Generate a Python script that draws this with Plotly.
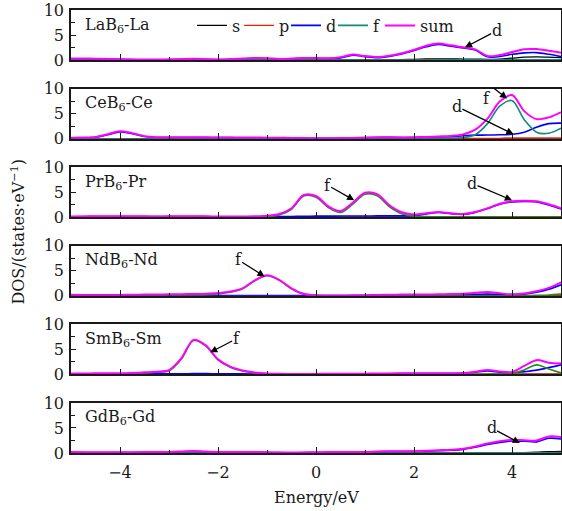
import plotly.graph_objects as go
from plotly.subplots import make_subplots

energy = [-5.0, -4.75, -4.5, -4.25, -4.0, -3.75, -3.5, -3.25,
          -3.0, -2.75, -2.5, -2.25, -2.0, -1.75, -1.5, -1.25,
          -1.0, -0.75, -0.5, -0.25, 0.0, 0.25, 0.5, 0.75,
          1.0, 1.25, 1.5, 1.75, 2.0, 2.25, 2.5, 2.75,
          3.0, 3.25, 3.5, 3.75, 4.0, 4.25, 4.5, 4.75, 5.0]

panel_labels = ["LaB<sub>6</sub>-La", "CeB<sub>6</sub>-Ce", "PrB<sub>6</sub>-Pr",
                "NdB<sub>6</sub>-Nd", "SmB<sub>6</sub>-Sm", "GdB<sub>6</sub>-Gd"]
orbital_names = ["s", "p", "d", "f", "sum"]
x_tick_values = [-4, -2, 0, 2, 4]
y_tick_values = [0, 5, 10]

# ---- LaB6-La
la_s = [0.03,0.03,0.03,0.03,0.03,0.03,0.03,0.03, 0.03,0.03,0.03,0.03,0.03,0.03,0.03,0.03,
        0.03,0.03,0.03,0.03,0.04,0.04,0.05,0.05, 0.06,0.06,0.07,0.10,0.15,0.22,0.25,0.24,
        0.20,0.18,0.15,0.20,0.38,0.58,0.65,0.60, 0.50]
la_p = [0.0,0.0,0.0,0.0,0.0,0.0,0.0,0.0, 0.0,0.0,0.0,0.0,0.0,0.0,0.0,0.0,
        0.0,0.0,0.0,0.0,0.0,0.0,0.0,0.0, 0.0,0.0,0.0,0.0,0.02,0.04,0.05,0.05,
        0.05,0.05,0.05,0.06,0.07,0.08,0.08,0.08, 0.08]
la_d = [0.25,0.25,0.23,0.18,0.14,0.09,0.07,0.07, 0.09,0.14,0.20,0.14,0.09,0.14,0.25,0.36,
        0.32,0.17,0.25,0.36,0.34,0.29,0.45,0.98, 0.70,0.50,0.75,1.22,1.90,2.65,3.10,2.78,
        2.40,2.00,0.65,0.75,1.15,1.45,1.50,1.15, 0.70]
la_f = [0.0,0.0,0.0,0.0,0.0,0.0,0.0,0.0, 0.0,0.0,0.0,0.0,0.0,0.0,0.0,0.0,
        0.0,0.0,0.0,0.0,0.0,0.0,0.0,0.0, 0.0,0.0,0.02,0.02,0.03,0.03,0.04,0.04,
        0.04,0.04,0.04,0.04,0.05,0.05,0.05,0.05, 0.05]
la_sum = [0.30,0.30,0.28,0.22,0.18,0.12,0.10,0.10, 0.12,0.18,0.25,0.18,0.12,0.18,0.30,0.42,
          0.38,0.22,0.30,0.42,0.40,0.35,0.55,1.10, 0.80,0.60,0.85,1.35,2.05,2.85,3.30,2.95,
          2.55,2.15,0.80,1.00,1.60,2.15,2.20,1.85, 1.45]

# ---- CeB6-Ce
ce_s = [0.0,0.0,0.0,0.0,0.0,0.0,0.0,0.0, 0.0,0.0,0.0,0.0,0.0,0.0,0.0,0.0,
        0.0,0.0,0.0,0.0,0.0,0.0,0.0,0.0, 0.0,0.0,0.0,0.0,0.0,0.0,0.0,0.0,
        0.02,0.02,0.03,0.03,0.04,0.05,0.05,0.05, 0.05]
ce_p = [0.0,0.0,0.0,0.0,0.0,0.0,0.0,0.0, 0.0,0.0,0.0,0.0,0.0,0.0,0.0,0.0,
        0.0,0.0,0.0,0.0,0.0,0.0,0.0,0.0, 0.0,0.0,0.0,0.0,0.0,0.0,0.0,0.03,
        0.05,0.06,0.07,0.08,0.09,0.10,0.10,0.11, 0.12]
ce_d = [0.15,0.17,0.30,0.80,1.35,1.00,0.42,0.24, 0.22,0.22,0.22,0.21,0.20,0.20,0.19,0.18,
        0.16,0.14,0.12,0.09,0.08,0.08,0.09,0.12, 0.18,0.24,0.26,0.21,0.24,0.28,0.35,0.40,
        0.58,0.70,0.72,0.78,0.88,1.30,2.30,3.00, 3.10]
ce_f = [0.0,0.0,0.0,0.0,0.0,0.0,0.0,0.0, 0.0,0.0,0.0,0.0,0.0,0.0,0.0,0.0,
        0.0,0.0,0.0,0.0,0.0,0.0,0.0,0.0, 0.0,0.0,0.0,0.02,0.03,0.05,0.08,0.12,
        0.22,0.80,3.00,6.50,7.60,3.80,1.30,1.10, 2.10]
ce_sum = [0.20,0.22,0.35,0.90,1.50,1.10,0.50,0.30, 0.28,0.28,0.28,0.26,0.25,0.25,0.24,0.22,
          0.20,0.18,0.15,0.12,0.10,0.10,0.12,0.15, 0.22,0.28,0.30,0.25,0.28,0.35,0.45,0.55,
          0.85,1.80,4.00,7.40,8.70,5.50,3.90,4.25, 5.30]

# ---- PrB6-Pr
pr_s = [0.0,0.0,0.0,0.0,0.0,0.0,0.0,0.0, 0.0,0.0,0.0,0.0,0.0,0.0,0.0,0.0,
        0.0,0.0,0.0,0.0,0.0,0.0,0.0,0.0, 0.0,0.0,0.0,0.0,0.0,0.0,0.0,0.0,
        0.02,0.02,0.02,0.03,0.03,0.03,0.03,0.03, 0.03]
pr_p = [0.0,0.0,0.0,0.0,0.0,0.0,0.0,0.0, 0.0,0.0,0.0,0.0,0.0,0.0,0.0,0.0,
        0.0,0.0,0.0,0.0,0.0,0.0,0.0,0.0, 0.0,0.0,0.0,0.0,0.0,0.02,0.03,0.03,
        0.04,0.04,0.05,0.05,0.05,0.05,0.05,0.05, 0.05]
pr_d = [0.10,0.12,0.14,0.16,0.16,0.15,0.13,0.12, 0.12,0.14,0.14,0.12,0.10,0.09,0.09,0.10,
        0.12,0.14,0.16,0.18,0.22,0.22,0.25,0.26, 0.26,0.27,0.27,0.28,0.30,0.65,0.95,0.72,
        0.58,0.98,1.72,2.60,3.05,3.15,3.05,2.45, 1.65]
pr_f = [0.0,0.0,0.0,0.0,0.0,0.0,0.0,0.0, 0.0,0.0,0.0,0.0,0.0,0.0,0.0,0.02,
        0.10,0.45,1.60,4.25,4.00,1.95,0.95,2.60, 4.60,4.30,2.10,0.70,0.25,0.12,0.08,0.06,
        0.05,0.05,0.05,0.05,0.05,0.05,0.05,0.05, 0.05]
pr_sum = [0.15,0.17,0.20,0.22,0.22,0.20,0.18,0.17, 0.18,0.20,0.20,0.18,0.15,0.14,0.14,0.18,
          0.30,0.65,1.80,4.45,4.25,2.20,1.25,2.90, 4.90,4.60,2.40,1.00,0.55,0.80,1.05,0.80,
          0.65,1.05,1.80,2.70,3.20,3.30,3.20,2.60, 1.80]

# ---- NdB6-Nd
nd_s = [0.0,0.0,0.0,0.0,0.0,0.0,0.0,0.0, 0.0,0.0,0.0,0.0,0.0,0.0,0.0,0.0,
        0.0,0.0,0.0,0.0,0.0,0.0,0.0,0.0, 0.0,0.0,0.0,0.0,0.0,0.0,0.0,0.0,
        0.02,0.02,0.03,0.03,0.03,0.03,0.04,0.04, 0.05]
nd_p = [0.0,0.0,0.0,0.0,0.0,0.0,0.0,0.0, 0.0,0.0,0.0,0.0,0.0,0.0,0.0,0.0,
        0.0,0.0,0.0,0.0,0.0,0.0,0.0,0.0, 0.0,0.0,0.0,0.0,0.0,0.02,0.02,0.03,
        0.04,0.15,0.28,0.15,0.05,0.05,0.05,0.05, 0.05]
nd_d = [0.05,0.05,0.05,0.05,0.05,0.05,0.05,0.05, 0.05,0.05,0.05,0.05,0.05,0.05,0.05,0.05,
        0.05,0.05,0.05,0.05,0.05,0.05,0.05,0.05, 0.05,0.06,0.08,0.10,0.12,0.12,0.14,0.16,
        0.20,0.30,0.38,0.28,0.20,0.35,0.70,1.30, 2.20]
nd_f = [0.0,0.0,0.0,0.0,0.0,0.0,0.0,0.02, 0.04,0.06,0.10,0.20,0.40,0.70,1.40,3.00,
        4.00,3.10,1.40,0.30,0.04,0.02,0.0,0.0, 0.0,0.0,0.0,0.0,0.0,0.0,0.0,0.0,
        0.0,0.0,0.02,0.02,0.03,0.05,0.10,0.18, 0.35]
nd_sum = [0.20,0.18,0.15,0.15,0.18,0.22,0.25,0.28, 0.30,0.33,0.36,0.42,0.55,0.85,1.50,3.10,
          4.10,3.20,1.50,0.40,0.10,0.08,0.08,0.10, 0.12,0.18,0.22,0.25,0.28,0.28,0.30,0.35,
          0.40,0.60,0.75,0.50,0.30,0.45,0.90,1.60, 2.70]

# ---- SmB6-Sm
sm_s = [0.0,0.0,0.0,0.0,0.0,0.0,0.0,0.0, 0.0,0.0,0.0,0.0,0.0,0.0,0.0,0.0,
        0.0,0.0,0.0,0.0,0.0,0.0,0.0,0.0, 0.0,0.0,0.0,0.0,0.0,0.0,0.0,0.0,
        0.02,0.02,0.02,0.02,0.03,0.03,0.04,0.04, 0.05]
sm_p = [0.0,0.0,0.0,0.0,0.0,0.0,0.0,0.0, 0.0,0.0,0.0,0.0,0.0,0.0,0.0,0.0,
        0.0,0.0,0.0,0.0,0.0,0.0,0.0,0.0, 0.0,0.0,0.0,0.0,0.0,0.0,0.02,0.02,
        0.03,0.04,0.05,0.04,0.04,0.05,0.06,0.06, 0.06]
sm_d = [0.08,0.08,0.09,0.10,0.10,0.10,0.11,0.12, 0.12,0.14,0.15,0.15,0.14,0.12,0.10,0.08,
        0.06,0.05,0.05,0.06,0.06,0.08,0.10,0.10, 0.10,0.11,0.13,0.15,0.17,0.18,0.18,0.18,
        0.20,0.45,0.70,0.45,0.30,0.55,0.85,1.35, 1.90]
sm_f = [0.05,0.05,0.06,0.07,0.10,0.15,0.28,0.42, 0.72,3.05,6.75,5.70,2.90,1.45,0.70,0.30,
        0.12,0.06,0.04,0.03,0.03,0.03,0.03,0.03, 0.03,0.03,0.03,0.03,0.03,0.03,0.03,0.03,
        0.03,0.03,0.05,0.08,0.15,0.90,1.90,1.10, 0.30]
sm_sum = [0.20,0.20,0.21,0.22,0.25,0.30,0.42,0.55, 0.85,3.20,6.90,5.80,3.00,1.55,0.80,0.38,
          0.18,0.12,0.10,0.10,0.10,0.12,0.14,0.15, 0.15,0.17,0.20,0.22,0.25,0.25,0.25,0.25,
          0.28,0.55,0.90,0.60,0.50,1.70,2.85,2.35, 2.20]

# ---- GdB6-Gd
gd_s = [0.0,0.0,0.0,0.0,0.0,0.0,0.0,0.0, 0.0,0.0,0.0,0.0,0.0,0.0,0.0,0.0,
        0.0,0.0,0.0,0.0,0.0,0.0,0.0,0.0, 0.0,0.0,0.0,0.0,0.0,0.0,0.02,0.03,
        0.03,0.03,0.04,0.05,0.06,0.08,0.15,0.25, 0.30]
gd_p = [0.0,0.0,0.0,0.0,0.0,0.0,0.0,0.0, 0.0,0.0,0.0,0.0,0.0,0.0,0.0,0.0,
        0.0,0.0,0.0,0.0,0.0,0.0,0.0,0.0, 0.0,0.0,0.0,0.0,0.0,0.0,0.03,0.03,
        0.03,0.04,0.04,0.05,0.06,0.07,0.08,0.09, 0.10]
gd_d = [0.12,0.11,0.10,0.10,0.10,0.11,0.12,0.14, 0.16,0.22,0.30,0.20,0.14,0.14,0.15,0.14,
        0.10,0.07,0.06,0.07,0.10,0.12,0.14,0.14, 0.16,0.22,0.27,0.28,0.30,0.36,0.45,0.55,
        0.72,1.15,1.70,2.12,2.40,2.35,2.22,2.95, 2.80]
gd_f = [0.0,0.0,0.0,0.0,0.0,0.0,0.0,0.0, 0.0,0.0,0.0,0.0,0.0,0.0,0.0,0.0,
        0.0,0.0,0.0,0.0,0.0,0.0,0.0,0.0, 0.0,0.0,0.0,0.0,0.0,0.0,0.0,0.0,
        0.02,0.02,0.03,0.03,0.03,0.04,0.04,0.05, 0.05]
gd_sum = [0.18,0.17,0.16,0.15,0.15,0.16,0.18,0.20, 0.22,0.30,0.40,0.28,0.20,0.20,0.22,0.20,
          0.15,0.10,0.08,0.10,0.15,0.18,0.20,0.20, 0.22,0.30,0.35,0.35,0.38,0.45,0.55,0.65,
          0.85,1.30,1.90,2.35,2.60,2.55,2.50,3.30, 3.20]

panel_series = [
    [la_s, la_p, la_d, la_f, la_sum],
    [ce_s, ce_p, ce_d, ce_f, ce_sum],
    [pr_s, pr_p, pr_d, pr_f, pr_sum],
    [nd_s, nd_p, nd_d, nd_f, nd_sum],
    [sm_s, sm_p, sm_d, sm_f, sm_sum],
    [gd_s, gd_p, gd_d, gd_f, gd_sum],
]

FONT = "DejaVu Serif"
INK = "#1a1a1a"
TEAL = "#0f8a85"
GREEN = "#1f8f1f"
base_colors = ["#000000", "#ff1a00", "#0000ff", TEAL, "#ff00ff"]
f_colors = [TEAL, TEAL, GREEN, GREEN, GREEN, TEAL]
widths = [1.3, 1.3, 1.6, 1.6, 2.0]

fig = make_subplots(rows=6, cols=1, shared_xaxes=True, vertical_spacing=0.0643)

for r, series in enumerate(panel_series, start=1):
    for k, (name, vals) in enumerate(zip(orbital_names, series)):
        color = f_colors[r - 1] if name == "f" else base_colors[k]
        fig.add_trace(go.Scatter(
            x=energy, y=vals, mode="lines", name=name,
            line=dict(color=color, width=widths[k], shape="spline", smoothing=0.9),
            showlegend=(r == 1), legendgroup=name, hoverinfo="skip",
            legendwidth=(38 if name == "sum" else None)),
            row=r, col=1)

axis_common = dict(showline=True, mirror=True, linecolor=INK, linewidth=1.5,
                   ticks="inside", tickcolor=INK, tickwidth=1.3,
                   showgrid=False, zeroline=False, ticklabeloverflow="allow",
                   tickfont=dict(family=FONT, size=16, color=INK))
for r in range(1, 7):
    fig.update_xaxes(range=[-5, 5], tickvals=x_tick_values, ticklen=6,
                     ticklabelstandoff=4,
                     minor=dict(tickvals=[-3, -1, 1, 3], ticks="inside", ticklen=3.5,
                                tickcolor=INK, tickwidth=1.3),
                     showticklabels=(r == 6), row=r, col=1, **axis_common)
    fig.update_yaxes(range=[0, 10], tickvals=y_tick_values, ticklen=5,
                     ticklabelstandoff=2,
                     minor=dict(tickvals=[2.5, 7.5], ticks="inside", ticklen=4,
                                tickcolor=INK, tickwidth=1.3),
                     row=r, col=1, **axis_common)

annotations = []
for r, lab in enumerate(panel_labels, start=1):
    sfx = "" if r == 1 else str(r)
    annotations.append(dict(text=lab, xref=f"x{sfx} domain", yref=f"y{sfx} domain",
                            x=0.025, y=0.70, xanchor="left", yanchor="middle",
                            showarrow=False, font=dict(family=FONT, size=16, color=INK)))

# (row, tip energy, tip value, label, tail dx px, tail dy px)
arrows = [
    (1, 3.04, 2.54, "d", 31.7, -16.6),
    (2, 3.90, 8.00, "", -14, -11),
    (2, 4.03, 0.90, "d", -56.6, -27.7),
    (3, 0.78, 3.40, "f", -27, -15.2),
    (3, 4.00, 3.40, "d", -40, -17),
    (4, -1.05, 3.87, "f", -26.5, -16.7),
    (5, -2.16, 4.40, "f", 26, -13.4),
    (6, 4.16, 2.00, "d", -28.3, -15),
]
for r, ex, ey, txt, ax, ay in arrows:
    sfx = "" if r == 1 else str(r)
    annotations.append(dict(text=txt, xref=f"x{sfx}", yref=f"y{sfx}", x=ex, y=ey,
                            ax=ax, ay=ay, showarrow=True, arrowhead=2, arrowsize=1.1,
                            arrowwidth=1.3, arrowcolor="#000", standoff=0, borderpad=0,
                            font=dict(family=FONT, size=16, color=INK)))
annotations.append(dict(text="f", xref="x2", yref="y2", x=3.47, y=8.0, showarrow=False,
                        font=dict(family=FONT, size=16, color=INK)))

annotations.append(dict(text="DOS/(states·eV<sup>−1</sup>)", xref="paper", yref="paper",
                        x=-0.108, y=0.5, textangle=-90, showarrow=False,
                        xanchor="center", yanchor="middle",
                        font=dict(family=FONT, size=16, color=INK)))
annotations.append(dict(text="Energy/eV", xref="paper", yref="paper",
                        x=0.5, y=-0.100, showarrow=False, xanchor="center", yanchor="middle",
                        font=dict(family=FONT, size=16, color=INK)))

fig.update_layout(
    width=562, height=511,
    margin=dict(l=71, r=1, t=10, b=58, autoexpand=False),
    paper_bgcolor="white", plot_bgcolor="white",
    font=dict(family=FONT, size=16, color=INK),
    annotations=annotations,
    legend=dict(orientation="h", x=0.247, xanchor="left", y=0.965, yanchor="middle",
                bgcolor="rgba(0,0,0,0)", entrywidth=2, itemwidth=30,
                font=dict(family=FONT, size=16, color=INK), tracegroupgap=0),
)

# remove the default page margin so the figure sits at the window's top-left corner
fig.write_html("out.html", config={"displayModeBar": False},
               post_script="document.body.style.margin='0';document.body.style.padding='0';")
